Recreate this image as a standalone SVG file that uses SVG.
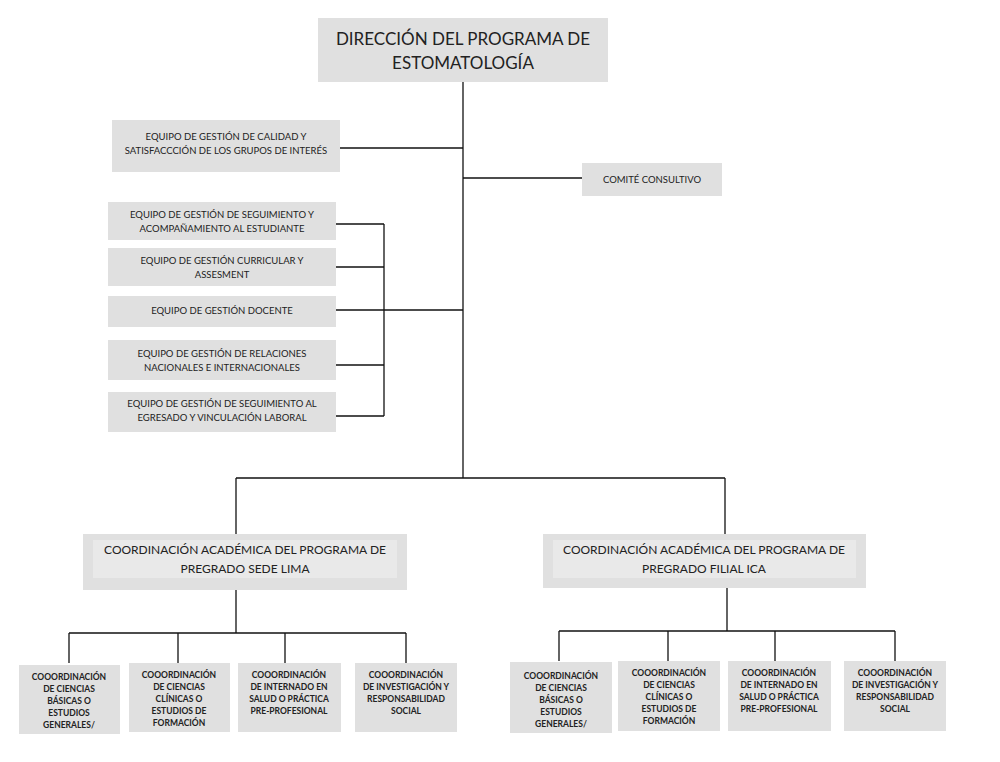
<svg xmlns="http://www.w3.org/2000/svg" width="1000" height="762" viewBox="0 0 1000 762">
<style>
.b{fill:#e0e0e0}
.in{fill:#e9e9e9}
text{font-family:Lato,"Open Sans",sans-serif;fill:#222;text-anchor:middle}
.t{font-size:17px}
.l{font-size:12px}
.m{font-size:9.5px}
.s{font-size:8.5px;font-weight:bold}
.c line{stroke:#111;stroke-width:1.3}
</style>
<rect width="1000" height="762" fill="#fff"/>
<g class="c">
<line x1="463" y1="82" x2="463" y2="478"/>
<line x1="340" y1="148" x2="463" y2="148"/>
<line x1="463" y1="178" x2="582" y2="178"/>
<line x1="336" y1="224" x2="384" y2="224"/>
<line x1="336" y1="267" x2="384" y2="267"/>
<line x1="336" y1="310" x2="463" y2="310"/>
<line x1="336" y1="365" x2="384" y2="365"/>
<line x1="336" y1="416" x2="384" y2="416"/>
<line x1="384" y1="224" x2="384" y2="416"/>
<line x1="236" y1="478" x2="725" y2="478"/>
<line x1="236" y1="478" x2="236" y2="534"/>
<line x1="725" y1="478" x2="725" y2="534"/>
<line x1="236" y1="590" x2="236" y2="633"/>
<line x1="69" y1="633" x2="406" y2="633"/>
<line x1="69" y1="633" x2="69" y2="663"/>
<line x1="178" y1="633" x2="178" y2="663"/>
<line x1="285" y1="633" x2="285" y2="663"/>
<line x1="406" y1="633" x2="406" y2="663"/>
<line x1="727" y1="588" x2="727" y2="631"/>
<line x1="559" y1="631" x2="895" y2="631"/>
<line x1="559" y1="631" x2="559" y2="661"/>
<line x1="668" y1="631" x2="668" y2="661"/>
<line x1="775" y1="631" x2="775" y2="661"/>
<line x1="895" y1="631" x2="895" y2="661"/>
</g>
<g id="direccion"><rect class="b" x="318" y="18" width="290" height="64"/>
<text class="t" x="463" y="45">DIRECCIÓN DEL PROGRAMA DE</text><text class="t" x="463" y="69">ESTOMATOLOGÍA</text></g>
<g id="calidad"><rect class="b" x="112" y="120" width="228" height="52"/>
<text class="m" x="226" y="140">EQUIPO DE GESTIÓN DE CALIDAD Y</text><text class="m" x="226" y="154">SATISFACCCIÓN DE LOS GRUPOS DE INTERÉS</text></g>
<g id="comite"><rect class="b" x="582" y="163" width="140" height="33"/>
<text class="m" x="652" y="183">COMITÉ CONSULTIVO</text></g>
<g id="seguimiento"><rect class="b" x="108" y="202" width="228" height="38"/>
<text class="m" x="222" y="218">EQUIPO DE GESTIÓN DE SEGUIMIENTO Y</text><text class="m" x="222" y="232">ACOMPAÑAMIENTO AL ESTUDIANTE</text></g>
<g id="curricular"><rect class="b" x="108" y="248" width="228" height="38"/>
<text class="m" x="222" y="264">EQUIPO DE GESTIÓN CURRICULAR Y</text><text class="m" x="222" y="278">ASSESMENT</text></g>
<g id="docente"><rect class="b" x="108" y="296" width="228" height="31"/>
<text class="m" x="222" y="314">EQUIPO DE GESTIÓN DOCENTE</text></g>
<g id="relaciones"><rect class="b" x="108" y="340" width="228" height="40"/>
<text class="m" x="222" y="357">EQUIPO DE GESTIÓN DE RELACIONES</text><text class="m" x="222" y="371">NACIONALES E INTERNACIONALES</text></g>
<g id="egresado"><rect class="b" x="108" y="392" width="228" height="40"/>
<text class="m" x="222" y="407">EQUIPO DE GESTIÓN DE SEGUIMIENTO AL</text><text class="m" x="222" y="421">EGRESADO Y VINCULACIÓN LABORAL</text></g>
<g id="lima"><rect class="b" x="83" y="534" width="324" height="56"/><rect class="in" x="93" y="540" width="304" height="38"/>
<text class="l" x="245" y="554">COORDINACIÓN ACADÉMICA DEL PROGRAMA DE</text><text class="l" x="245" y="573">PREGRADO SEDE LIMA</text></g>
<g id="ica"><rect class="b" x="543" y="534" width="323" height="54"/><rect class="in" x="553" y="540" width="303" height="38"/>
<text class="l" x="704" y="554">COORDINACIÓN ACADÉMICA DEL PROGRAMA DE</text><text class="l" x="704" y="573">PREGRADO FILIAL ICA</text></g>
<g id="l1"><rect class="b" x="19" y="665" width="101" height="69"/>
<text class="s" x="69" y="680">COOORDINACIÓN</text><text class="s" x="69" y="692">DE CIENCIAS</text><text class="s" x="69" y="704">BÁSICAS O</text><text class="s" x="69" y="716">ESTUDIOS</text><text class="s" x="69" y="728">GENERALES/</text></g>
<g id="l2"><rect class="b" x="129" y="663" width="101" height="69"/>
<text class="s" x="179" y="678">COOORDINACIÓN</text><text class="s" x="179" y="690">DE CIENCIAS</text><text class="s" x="179" y="702">CLÍNICAS O</text><text class="s" x="179" y="714">ESTUDIOS DE</text><text class="s" x="179" y="726">FORMACIÓN</text></g>
<g id="l3"><rect class="b" x="238" y="663" width="103" height="69"/>
<text class="s" x="289" y="678">COOORDINACIÓN</text><text class="s" x="289" y="690">DE INTERNADO EN</text><text class="s" x="289" y="702">SALUD O PRÁCTICA</text><text class="s" x="289" y="714">PRE-PROFESIONAL</text></g>
<g id="l4"><rect class="b" x="355" y="663" width="102" height="69"/>
<text class="s" x="406" y="678">COOORDINACIÓN</text><text class="s" x="406" y="690">DE INVESTIGACIÓN Y</text><text class="s" x="406" y="702">RESPONSABILIDAD</text><text class="s" x="406" y="714">SOCIAL</text></g>
<g id="i1"><rect class="b" x="510" y="662" width="102" height="71"/>
<text class="s" x="561" y="679">COOORDINACIÓN</text><text class="s" x="561" y="691">DE CIENCIAS</text><text class="s" x="561" y="703">BÁSICAS O</text><text class="s" x="561" y="715">ESTUDIOS</text><text class="s" x="561" y="727">GENERALES/</text></g>
<g id="i2"><rect class="b" x="618" y="661" width="102" height="70"/>
<text class="s" x="669" y="676">COOORDINACIÓN</text><text class="s" x="669" y="688">DE CIENCIAS</text><text class="s" x="669" y="700">CLÍNICAS O</text><text class="s" x="669" y="712">ESTUDIOS DE</text><text class="s" x="669" y="724">FORMACIÓN</text></g>
<g id="i3"><rect class="b" x="728" y="661" width="103" height="70"/>
<text class="s" x="779" y="676">COOORDINACIÓN</text><text class="s" x="779" y="688">DE INTERNADO EN</text><text class="s" x="779" y="700">SALUD O PRÁCTICA</text><text class="s" x="779" y="712">PRE-PROFESIONAL</text></g>
<g id="i4"><rect class="b" x="844" y="661" width="102" height="70"/>
<text class="s" x="895" y="676">COOORDINACIÓN</text><text class="s" x="895" y="688">DE INVESTIGACIÓN Y</text><text class="s" x="895" y="700">RESPONSABILIDAD</text><text class="s" x="895" y="712">SOCIAL</text></g>
</svg>
